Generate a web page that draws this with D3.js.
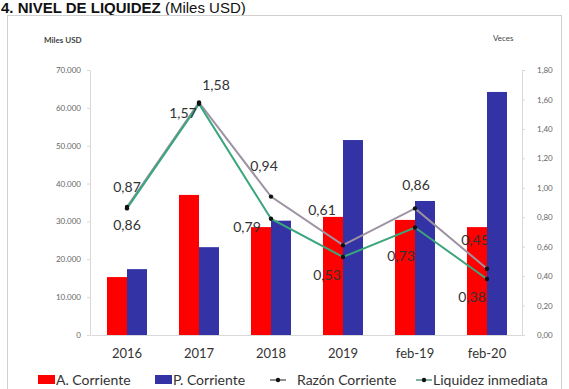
<!DOCTYPE html>
<html>
<head>
<meta charset="utf-8">
<script src="https://cdn.jsdelivr.net/npm/d3@7"></script>
<style>
  html, body { margin: 0; padding: 0; background: #fff; }
  svg { display: block; }
</style>
</head>
<body>
<svg id="chart" width="569" height="389"></svg>
<script>
// Liquidity level: current assets / liabilities (thousand USD) and ratios (times)
const categories = ["2016", "2017", "2018", "2019", "feb-19", "feb-20"];
const activoCorriente = [15300, 37000, 28500, 31200, 30400, 28500];
const pasivoCorriente = [17400, 23200, 30200, 51500, 35400, 64200];
const razonCorriente = [0.87, 1.58, 0.94, 0.61, 0.86, 0.45];
const liquidezInmediata = [0.86, 1.57, 0.79, 0.53, 0.73, 0.38];
const leftTicks = [0, 10000, 20000, 30000, 40000, 50000, 60000, 70000];
const rightTicks = [0, 0.2, 0.4, 0.6, 0.8, 1.0, 1.2, 1.4, 1.6, 1.8];

const font = "Lato, 'Open Sans', sans-serif";
const svg = d3.select("#chart");

// title
const title = svg.append("text").attr("x", 1).attr("y", 13)
  .attr("font-family", "'Liberation Sans', Arial, sans-serif").attr("font-size", 15).attr("fill", "#111");
title.append("tspan").attr("font-weight", "bold").text("4. NIVEL DE LIQUIDEZ ");
title.append("tspan").text("(Miles USD)");

// chart frame
svg.append("rect").attr("x", 7.5).attr("y", 15.5).attr("width", 554).attr("height", 390)
  .attr("fill", "none").attr("stroke", "#d0d0d0");

const plot = { left: 91, right: 523, top: 70, bottom: 335 };

const x = d3.scaleBand().domain(categories).range([plot.left, plot.right]);
const xSub = d3.scaleBand().domain(["A", "P"]).range([-20, 20]);
const yL = d3.scaleLinear().domain([0, 70000]).range([plot.bottom, plot.top]);
const yR = d3.scaleLinear().domain([0, 1.8]).range([plot.bottom, plot.top]);
const cx = c => x(c) + x.bandwidth() / 2;

const fmtL = v => v === 0 ? "0" : d3.format(",")(v).replace(/,/g, ".");
const fmtR = v => v.toFixed(2).replace(".", ",");

// left axis
const axL = svg.append("g").attr("transform", `translate(${plot.left - 1},0)`)
  .call(d3.axisLeft(yL).tickValues(leftTicks).tickFormat(fmtL).tickSize(3).tickPadding(6));
axL.select(".domain").attr("stroke", "#d9d9d9");
axL.selectAll(".tick line").attr("stroke", "#d9d9d9");
axL.selectAll("text").attr("font-family", font).attr("font-size", 8).attr("fill", "#666");

// right axis
const axR = svg.append("g").attr("transform", `translate(${plot.right - 1},0)`)
  .call(d3.axisRight(yR).tickValues(rightTicks).tickFormat(fmtR).tickSize(3).tickPadding(12));
axR.select(".domain").attr("stroke", "#d9d9d9");
axR.selectAll(".tick line").attr("stroke", "#d9d9d9");
axR.selectAll("text").attr("font-family", font).attr("font-size", 8).attr("fill", "#666");

// bottom axis
const axB = svg.append("g").attr("transform", `translate(0,${plot.bottom})`)
  .call(d3.axisBottom(x).tickSize(0).tickPadding(14));
axB.select(".domain").attr("stroke", "#d9d9d9");
axB.selectAll("text").attr("font-family", font).attr("font-size", 13).attr("fill", "#333");

// axis unit titles
svg.append("text").attr("x", 44).attr("y", 43).attr("font-family", font).attr("font-size", 8)
  .attr("font-weight", "bold").attr("fill", "#444").text("Miles USD");
svg.append("text").attr("x", 493).attr("y", 41).attr("font-family", font).attr("font-size", 8)
  .attr("fill", "#444").text("Veces");

// bars
const bars = svg.append("g");
categories.forEach((c, i) => {
  bars.append("rect").attr("x", cx(c) + xSub("A")).attr("y", yL(activoCorriente[i]))
    .attr("width", xSub.bandwidth()).attr("height", yL(0) - yL(activoCorriente[i])).attr("fill", "#fe0000");
  bars.append("rect").attr("x", cx(c) + xSub("P")).attr("y", yL(pasivoCorriente[i]))
    .attr("width", xSub.bandwidth()).attr("height", yL(0) - yL(pasivoCorriente[i])).attr("fill", "#3333a6");
});

// ratio lines
const lineGen = d3.line().x((d, i) => cx(categories[i])).y(d => yR(d));
svg.append("path").datum(razonCorriente).attr("d", lineGen)
  .attr("fill", "none").attr("stroke", "#9d93a3").attr("stroke-width", 2);
svg.append("path").datum(liquidezInmediata).attr("d", lineGen)
  .attr("fill", "none").attr("stroke", "#3ba57b").attr("stroke-width", 2);
[razonCorriente, liquidezInmediata].forEach(arr => {
  svg.append("g").selectAll("circle").data(arr).join("circle")
    .attr("cx", (d, i) => cx(categories[i])).attr("cy", d => yR(d)).attr("r", 2.2).attr("fill", "#111");
});

// data labels (offsets of the label centre from its point)
const razonOff = [[0, -20], [17, -17], [-7, -31], [-21, -35], [1, -23], [-12, -29]];
const liqOff = [[0, 17], [-16, 9], [-24, 8], [-16, 18], [-14, 29], [-15, 18]];
const fmtLbl = v => v.toFixed(2).replace(".", ",");
const lbl = svg.append("g").attr("font-family", font).attr("font-size", 14).attr("fill", "#333")
  .attr("text-anchor", "middle");
razonCorriente.forEach((v, i) => {
  lbl.append("text").attr("x", cx(categories[i]) + razonOff[i][0])
    .attr("y", yR(v) + razonOff[i][1]).attr("dy", "0.35em").text(fmtLbl(v));
});
liquidezInmediata.forEach((v, i) => {
  lbl.append("text").attr("x", cx(categories[i]) + liqOff[i][0])
    .attr("y", yR(v) + liqOff[i][1]).attr("dy", "0.35em").text(fmtLbl(v));
});

// legend
const lg = svg.append("g").attr("font-family", font).attr("font-size", 14).attr("fill", "#333");
const ly = 380;
lg.append("rect").attr("x", 38).attr("y", ly - 5).attr("width", 17).attr("height", 9).attr("fill", "#fe0000");
lg.append("text").attr("x", 56).attr("y", ly).attr("dy", "0.35em").text("A. Corriente");
lg.append("rect").attr("x", 155).attr("y", ly - 5).attr("width", 17).attr("height", 9).attr("fill", "#3333a6");
lg.append("text").attr("x", 173).attr("y", ly).attr("dy", "0.35em").text("P. Corriente");
lg.append("line").attr("x1", 270).attr("x2", 286).attr("y1", ly).attr("y2", ly).attr("stroke", "#444").attr("stroke-width", 1.2);
lg.append("circle").attr("cx", 278).attr("cy", ly).attr("r", 2.2).attr("fill", "#111");
lg.append("text").attr("x", 297).attr("y", ly).attr("dy", "0.35em").text("Razón Corriente");
lg.append("line").attr("x1", 416).attr("x2", 432).attr("y1", ly).attr("y2", ly).attr("stroke", "#2f7a5d").attr("stroke-width", 1.2);
lg.append("circle").attr("cx", 424).attr("cy", ly).attr("r", 2.2).attr("fill", "#111");
lg.append("text").attr("x", 433).attr("y", ly).attr("dy", "0.35em").text("Liquidez inmediata");
</script>
</body>
</html>
